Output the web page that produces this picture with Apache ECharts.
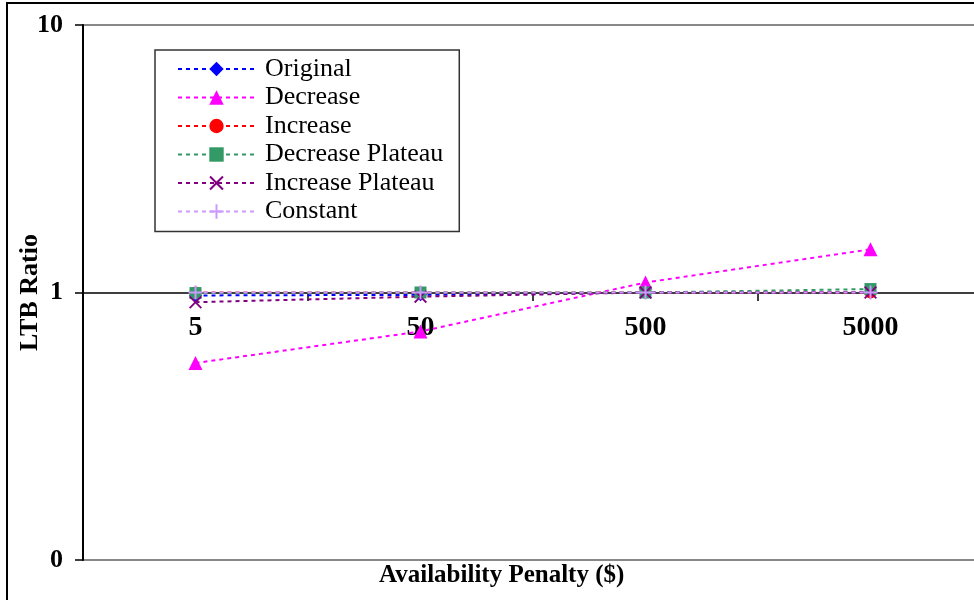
<!DOCTYPE html>
<html>
<head>
<meta charset="utf-8">
<script src="https://cdn.jsdelivr.net/npm/echarts@6/dist/echarts.min.js"></script>
<style>
  html, body { margin: 0; padding: 0; background: #fff; }
  #chart { width: 974px; height: 600px; }
</style>
</head>
<body>
<div id="chart"></div>
<script>
// categories and series values (LTB ratio, log scale)
const penalties = ["5", "50", "500", "5000"];
const original = [0.975, 0.98, 1.0, 1.0];
const decrease = [0.545, 0.715, 1.09, 1.45];
const increase = [1.0, 1.0, 1.0, 1.0];
const decreasePlateau = [0.995, 1.0, 1.0, 1.03];
const increasePlateau = [0.92, 0.965, 1.0, 1.0];
const constant = [1.0, 1.0, 1.0, 1.0];

const serif = "Liberation Serif";
const xMark = "path://M0,1L1,0L5,4L9,0L10,1L6,5L10,9L9,10L5,6L1,10L0,9L4,5Z";
const plusMark = "path://M4.3,0H5.7V4.3H10V5.7H5.7V10H4.3V5.7H0V4.3H4.3Z";

// one line series, dotted like the original
const makeSeries = (name, data, color, symbol, size) => ({
  name: name,
  type: "line",
  data: data,
  symbol: symbol,
  symbolSize: size,
  color: color,
  itemStyle: { color: color },
  lineStyle: { color: color, width: 2, type: [4, 4] },
  emphasis: { disabled: true },
});

const chart = echarts.init(document.getElementById("chart"));
chart.setOption({
  animation: false,
  textStyle: { fontFamily: serif },
  graphic: [
    {
      type: "rect",
      shape: { x: 7, y: 3, width: 1000, height: 1000 },
      style: { fill: "none", stroke: "#000", lineWidth: 2 },
      z: 0,
    },
    {
      type: "text",
      left: 379,
      top: 563,
      style: {
        text: "Availability Penalty ($)",
        font: "bold 25px " + serif,
        fill: "#000",
      },
    },
  ],
  grid: {
    left: 83,
    top: 25,
    width: 900,
    height: 535,
    show: true,
    borderColor: "#888",
    borderWidth: 2,
    outerBoundsMode: "none",
    containLabel: false,
  },
  legend: {
    orient: "vertical",
    left: 155,
    top: 50,
    padding: [5, 16, 6, 22],
    backgroundColor: "#fff",
    borderColor: "#333",
    borderWidth: 1.5,
    itemWidth: 77,
    itemHeight: 18,
    itemGap: 0.5,
    textStyle: {
      fontFamily: serif,
      fontSize: 26,
      lineHeight: 28,
      color: "#000",
      padding: [0, 0, 0, 5],
    },
    data: ["Original", "Decrease", "Increase", "Decrease Plateau", "Increase Plateau", "Constant"],
  },
  xAxis: {
    type: "category",
    data: penalties,
    boundaryGap: true,
    offset: -267,
    axisLine: { lineStyle: { color: "#000", width: 1.5 } },
    axisTick: { show: true, length: 8, lineStyle: { color: "#000", width: 1.5 } },
    axisLabel: {
      margin: 21,
      fontFamily: serif,
      fontSize: 28,
      fontWeight: "bold",
      color: "#000",
    },
    splitLine: { show: false },
  },
  yAxis: {
    type: "log",
    logBase: 10,
    min: 0.1,
    max: 10,
    name: "LTB Ratio",
    nameLocation: "middle",
    nameRotate: 90,
    nameGap: 40,
    nameMoveOverlap: false,
    nameTextStyle: { fontFamily: serif, fontSize: 26, fontWeight: "bold", color: "#000" },
    axisLine: { show: true, lineStyle: { color: "#000", width: 2 } },
    axisTick: { show: true, length: 8, lineStyle: { color: "#000", width: 1.5 } },
    axisLabel: {
      margin: 20,
      fontFamily: serif,
      fontSize: 26,
      fontWeight: "bold",
      color: "#000",
      formatter: (v) => (v < 1 ? "0" : String(Math.round(v))),
    },
    splitLine: { show: false },
    minorTick: { show: false },
  },
  series: [
    makeSeries("Original", original, "#0000FF", "diamond", 13),
    makeSeries("Decrease", decrease, "#FF00FF", "triangle", 14),
    makeSeries("Increase", increase, "#FF0000", "circle", 12),
    makeSeries("Decrease Plateau", decreasePlateau, "#339966", "rect", 12),
    makeSeries("Increase Plateau", increasePlateau, "#800080", xMark, 13),
    makeSeries("Constant", constant, "#CC99FF", plusMark, 14),
  ],
});
</script>
</body>
</html>
